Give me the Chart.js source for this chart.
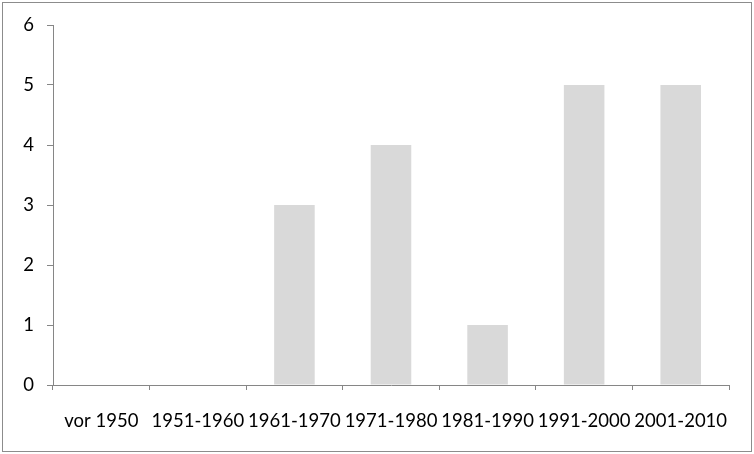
<!DOCTYPE html>
<html>
<head>
<meta charset="utf-8">
<script src="https://cdn.jsdelivr.net/npm/chart.js@4"></script>
<style>
  body { margin: 0; background: #fff; }
  #wrap { position: absolute; left: 0; top: 0; width: 754px; height: 454px; }
</style>
</head>
<body>
<div id="wrap"><canvas id="barChart" width="754" height="454"></canvas></div>
<script>
// Bar chart - Anzahl je Jahrzehnt

var categories = ['vor 1950', '1951-1960', '1961-1970', '1971-1980', '1981-1990', '1991-2000', '2001-2010'];
var counts = [0, 0, 3, 4, 1, 5, 5];
var yTicks = [0, 1, 2, 3, 4, 5, 6];

var axisColor = '#868686';

// frame around the whole picture
var framePlugin = {
    id: 'frame',
    afterDraw: function (chart) {
        var c = chart.ctx;
        c.save();
        c.strokeStyle = '#8c8c8c';
        c.lineWidth = 1;
        c.strokeRect(2.5, 2.5, 749, 449);
        c.restore();
    }
};

var ctx = document.getElementById('barChart').getContext('2d');
var myChart = new Chart(ctx, {
    type: 'bar',
    data: {
        labels: categories,
        datasets: [{
            data: counts,
            backgroundColor: '#d9d9d9',
            borderWidth: 0,
            categoryPercentage: 1,
            barPercentage: 0.42
        }]
    },
    options: {
        responsive: false,
        animation: false,
        layout: {
            padding: { top: 25, right: 25, bottom: 0, left: 0 }
        },
        plugins: {
            legend: { display: false },
            tooltip: { enabled: false }
        },
        scales: {
            x: {
                offset: true,
                grid: {
                    offset: true,
                    drawOnChartArea: false,
                    drawTicks: true,
                    tickLength: 5,
                    color: axisColor
                },
                border: { display: true, color: axisColor, width: 1 },
                ticks: {
                    color: '#000',
                    font: { family: 'Lato, sans-serif', size: 18.5 },
                    padding: 20,
                    maxRotation: 0,
                    autoSkip: false
                },
                afterFit: function (scale) { scale.height = 69; }
            },
            y: {
                min: 0,
                max: 6,
                afterBuildTicks: function (scale) {
                    scale.ticks = yTicks.map(function (v) { return { value: v }; });
                },
                grid: {
                    drawOnChartArea: false,
                    drawTicks: true,
                    tickLength: 6,
                    color: axisColor
                },
                border: { display: true, color: axisColor, width: 1 },
                ticks: {
                    color: '#000',
                    font: { family: 'Lato, sans-serif', size: 18.5 },
                    padding: 13
                },
                afterFit: function (scale) { scale.width = 53; }
            }
        }
    },
    plugins: [framePlugin]
});
</script>
</body>
</html>
